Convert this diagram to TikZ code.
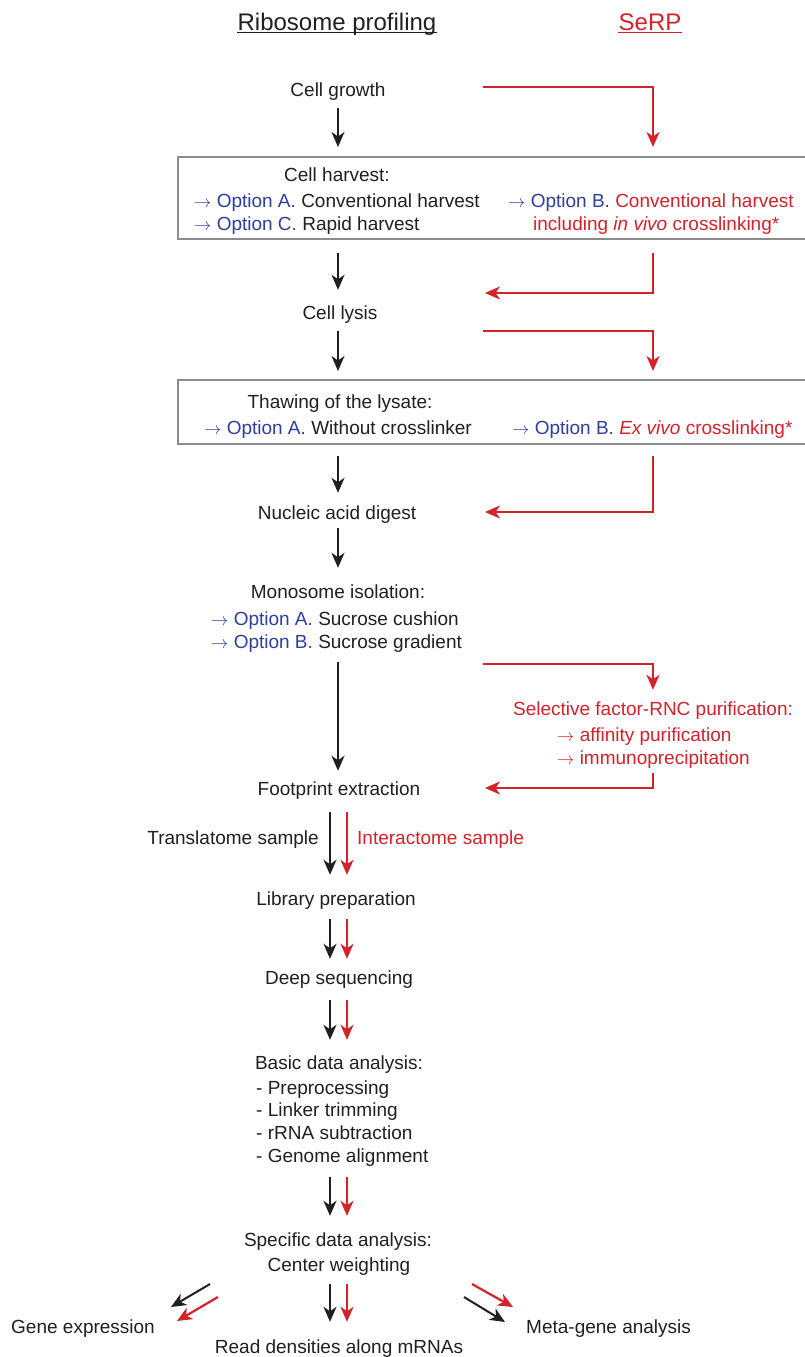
\documentclass[tikz,border=0pt]{standalone}
\usepackage{fontspec}
\setmainfont{Liberation Sans}
\usetikzlibrary{arrows.meta}
\definecolor{ink}{HTML}{231F20}
\definecolor{serp}{HTML}{D2232A}
\definecolor{optblue}{HTML}{2E3F9E}
\definecolor{boxgray}{HTML}{8C8C8C}
\newcommand\bodyfont{\fontsize{19}{22}\selectfont}
\newcommand\rarr{\ensuremath{\rightarrow}}
\newcommand\opt[1]{\textcolor{optblue}{\rarr\ Option #1.}}
\tikzset{
  lbl/.style={font=\bodyfont, text=ink, inner sep=0pt, text height=14pt, text depth=4pt},
  rlbl/.style={lbl, text=serp},
  head/.style={font=\fontsize{24}{28}\selectfont, inner sep=0pt, anchor=base},
  optbox/.style={draw=boxgray, line width=1.5pt, minimum width=660pt, anchor=north west, inner sep=0pt},
  ar/.style={-{Stealth[length=15pt,width=13pt,inset=4.5pt]}, line width=2pt, draw=ink},
  arr/.style={ar, draw=serp, line width=2.2pt},
}

\begin{document}
\begin{tikzpicture}[x=1pt,y=1pt]
  \path[use as bounding box, fill=white] (0,0) rectangle (804,-1357);

  % column guides
  \coordinate (mc) at (338,0);
  \coordinate (colL) at (330,0);
  \coordinate (colR) at (347,0);
  \coordinate (sc) at (653,0);

  % titles
  \node[head, text=ink] (rp) at (337,-30) {Ribosome profiling};
  \node[head, text=serp] (st) at (650,-30) {SeRP};
  \draw[ink, line width=1.3pt] ([yshift=-2.5pt]rp.base west) -- ([yshift=-2.5pt]rp.base east);
  \draw[serp, line width=1.3pt] ([yshift=-2.5pt]st.base west) -- ([yshift=-2.5pt]st.base east);

  % main steps
  \node[lbl, anchor=base] (growth) at (338,-96) {Cell growth};

  \node[optbox, minimum height=82pt] (harvbox) at (177,-156) {};
  \node[lbl, anchor=base] (harv) at (337,-181) {Cell harvest:};
  \node[lbl, anchor=base west] (harvA) at (194,-207) {\opt{A} Conventional harvest};
  \node[lbl, anchor=base west] (harvC) at (194,-230) {\opt{C} Rapid harvest};
  \node[lbl, anchor=base west] (harvB) at (508,-207) {\opt{B} \textcolor{serp}{Conventional harvest}};
  \node[rlbl, anchor=base west] (harvB2) at (533,-230) {including \textit{in vivo} crosslinking*};

  \node[lbl, anchor=base] (lysis) at (340,-319) {Cell lysis};

  \node[optbox, minimum height=64pt] (thawbox) at (177,-379) {};
  \node[lbl, anchor=base] (thaw) at (340,-408) {Thawing of the lysate:};
  \node[lbl, anchor=base west] (thawA) at (204,-434) {\opt{A} Without crosslinker};
  \node[lbl, anchor=base west] (thawB) at (512,-434) {\opt{B} \textcolor{serp}{\textit{Ex vivo} crosslinking*}};

  \node[lbl, anchor=base] (digest) at (337,-519) {Nucleic acid digest};

  \node[lbl, anchor=base] (mono) at (338,-598) {Monosome isolation:};
  \node[lbl, anchor=base west] (monoA) at (211,-625) {\opt{A} Sucrose cushion};
  \node[lbl, anchor=base west] (monoB) at (211,-648) {\opt{B} Sucrose gradient};

  \node[rlbl, anchor=base] (sel) at (653,-715) {Selective factor-RNC purification:};
  \node[rlbl, anchor=base west] (aff) at (557,-741) {\rarr\ affinity purification};
  \node[rlbl, anchor=base west] (imm) at (557,-764) {\rarr\ immunoprecipitation};

  \node[lbl, anchor=base] (foot) at (339,-795) {Footprint extraction};
  \node[lbl, anchor=base east] (trans) at (319,-844) {Translatome sample};
  \node[rlbl, anchor=base west] (inter) at (357,-844) {Interactome sample};

  \node[lbl, anchor=base] (lib) at (336,-905) {Library preparation};
  \node[lbl, anchor=base] (deep) at (339,-984) {Deep sequencing};

  \node[lbl, anchor=base] (basic) at (339,-1069) {Basic data analysis:};
  \node[lbl, anchor=base west] (bd1) at (256,-1094) {- Preprocessing};
  \node[lbl, anchor=base west] (bd2) at (256,-1116) {- Linker trimming};
  \node[lbl, anchor=base west] (bd3) at (256,-1139) {- rRNA subtraction};
  \node[lbl, anchor=base west] (bd4) at (256,-1162) {- Genome alignment};

  \node[lbl, anchor=base] (spec) at (338,-1246) {Specific data analysis:};
  \node[lbl, anchor=base] (cw) at (339,-1271) {Center weighting};

  \node[lbl, anchor=base west] (gene) at (11,-1333) {Gene expression};
  \node[lbl, anchor=base] (read) at (339,-1353) {Read densities along mRNAs};
  \node[lbl, anchor=base west] (meta) at (526,-1333) {Meta-gene analysis};

  % ribosome profiling path
  \draw[ar, shorten <=8pt, shorten >=9pt] (mc |- growth.south) -- (mc |- harvbox.north);
  \draw[ar, shorten <=13pt, shorten >=15pt] (mc |- harvbox.south) -- (mc |- lysis.north);
  \draw[ar, shorten <=8pt, shorten >=8pt] (mc |- lysis.south) -- (mc |- thawbox.north);
  \draw[ar, shorten <=11pt, shorten >=12pt] (mc |- thawbox.south) -- (mc |- digest.north);
  \draw[ar, shorten <=5pt, shorten >=16pt] (mc |- digest.south) -- (mc |- mono.north);
  \draw[ar, shorten <=10pt, shorten >=10pt] (mc |- monoB.south) -- (mc |- foot.north);

  % SeRP path
  \coordinate (r1) at (483,-87);
  \coordinate (r2) at (485,-293);
  \coordinate (r3) at (483,-331);
  \coordinate (r4) at (485,-512);
  \coordinate (r5) at (483,-664);
  \coordinate (r6) at (485,-788);
  \draw[arr, shorten >=9pt] (r1) -| (sc |- harvbox.north);
  \draw[arr, shorten <=13pt] (sc |- harvbox.south) |- (r2);
  \draw[arr, shorten >=8pt] (r3) -| (sc |- thawbox.north);
  \draw[arr, shorten <=11pt] (sc |- thawbox.south) |- (r4);
  \draw[arr, shorten >=11pt] (r5) -| (sc |- sel.north);
  \draw[arr, shorten <=5pt] (sc |- imm.south) |- (r6);

  % paired arrows
  \draw[ar, shorten <=13pt, shorten >=16pt] (colL |- foot.south) -- (colL |- lib.north);
  \draw[arr, shorten <=13pt, shorten >=16pt] (colR |- foot.south) -- (colR |- lib.north);
  \draw[ar, shorten <=10pt, shorten >=11pt] (colL |- lib.south) -- (colL |- deep.north);
  \draw[arr, shorten <=10pt, shorten >=11pt] (colR |- lib.south) -- (colR |- deep.north);
  \draw[ar, shorten <=12pt, shorten >=15pt] (colL |- deep.south) -- (colL |- basic.north);
  \draw[arr, shorten <=12pt, shorten >=15pt] (colR |- deep.south) -- (colR |- basic.north);
  \draw[ar, shorten <=11pt, shorten >=16pt] (colL |- bd4.south) -- (colL |- spec.north);
  \draw[arr, shorten <=11pt, shorten >=16pt] (colR |- bd4.south) -- (colR |- spec.north);
  \draw[ar, shorten <=9pt, shorten >=17pt] (colL |- cw.south) -- (colL |- read.north);
  \draw[arr, shorten <=9pt, shorten >=17pt] (colR |- cw.south) -- (colR |- read.north);

  % split to results
  \coordinate (gk) at (210,-1284);
  \coordinate (gr) at (218,-1297);
  \coordinate (mk) at (464,-1297);
  \coordinate (mr) at (472,-1284);
  \draw[ar] (gk) -- ++(-39,-23);
  \draw[arr] (gr) -- ++(-41,-24);
  \draw[ar] (mk) -- ++(41,-25);
  \draw[arr] (mr) -- ++(41,-23);
\end{tikzpicture}
\end{document}
